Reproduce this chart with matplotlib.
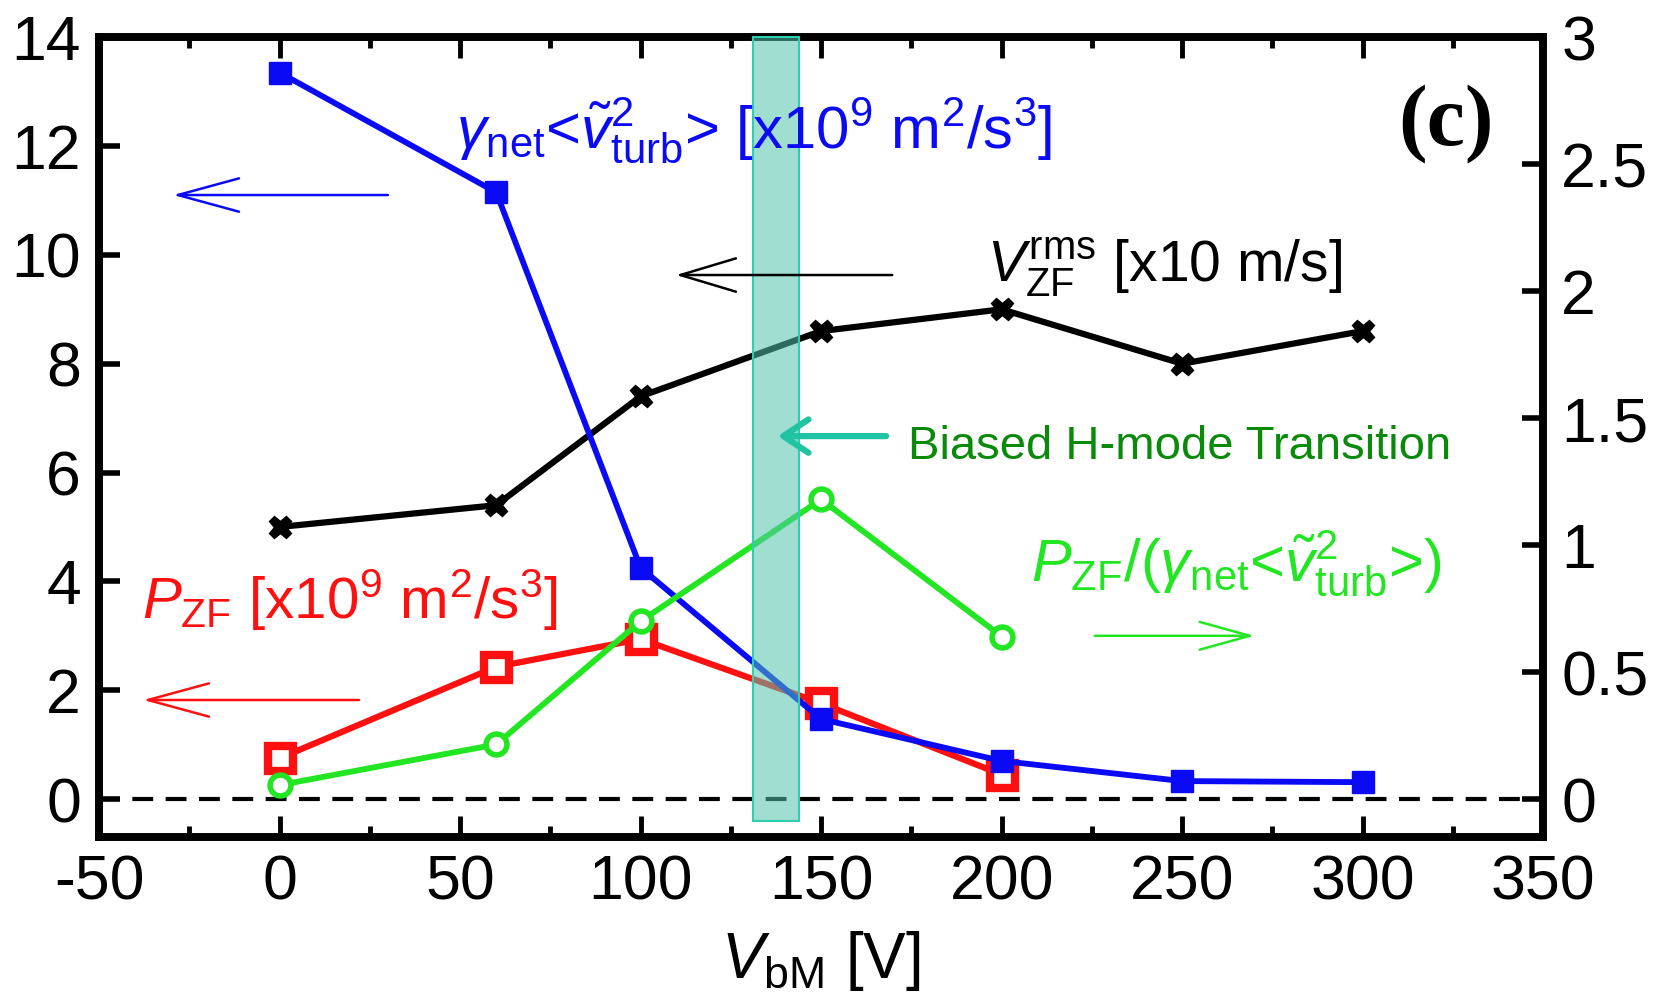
import matplotlib
matplotlib.use("Agg")
import matplotlib.pyplot as plt
from matplotlib.patches import Rectangle
from matplotlib.ticker import MultipleLocator

plt.rcParams['font.family'] = ['Liberation Sans', 'DejaVu Sans']
plt.rcParams['mathtext.fontset'] = 'custom'
plt.rcParams['mathtext.rm'] = 'Liberation Sans'
plt.rcParams['mathtext.it'] = 'Liberation Sans:italic'
plt.rcParams['mathtext.bf'] = 'Liberation Sans:bold'
plt.rcParams['axes.unicode_minus'] = False

# bias voltage scan
v_bias = [0, 60, 100, 150, 200, 250, 300]
gamma_vturb = [13.35, 11.15, 4.25, 1.47, 0.70, 0.33, 0.31]   # x1e9 m^2/s^3
v_zf_rms = [5.0, 5.4, 7.4, 8.6, 9.0, 8.0, 8.6]               # x10 m/s

v_bias_pzf = [0, 60, 100, 150, 200]
p_zf = [0.75, 2.43, 2.94, 1.76, 0.45]                          # x1e9 m^2/s^3
ratio = [0.055, 0.215, 0.70, 1.18, 0.64]                       # right axis

# H-mode transition window
band_lo, band_hi = 131, 144
band_bottom = -0.41

xlim = (-50, 350)
ylim_left = (-0.69, 14)
ylim_right = (ylim_left[0] * 3 / 14, 3)

fig = plt.figure(figsize=(16.71, 10.06), dpi=100)
ax = fig.add_axes([0.0593, 0.1684, 0.8642, 0.7946])
ax2 = ax.twinx()

blue = '#0a0af5'
red = '#ff1010'
green = '#22e622'
teal = '#2ccfae'

ax.axhline(0, color='black', lw=3, ls=(0, (5, 3)), zorder=1)

ax.plot(v_bias, v_zf_rms, color='black', lw=4.5, marker='X', ms=16,
        mec='black', mfc='black', zorder=3)
ax.plot(v_bias_pzf, p_zf, color=red, lw=4.5, marker='s', ms=18,
        mfc='white', mec=red, mew=6, zorder=3)
ax.plot(v_bias, gamma_vturb, color=blue, lw=4.2, marker='s', ms=16,
        mfc=blue, mec=blue, zorder=4)
ax2.plot(v_bias_pzf, ratio, color=green, lw=4.2, marker='o', ms=15,
         mfc='white', mec=green, mew=4, zorder=3)

# translucent band over all curves
ax2.add_patch(Rectangle((band_lo, band_bottom), band_hi - band_lo,
                        ylim_left[1] - band_bottom, transform=ax.transData,
                        facecolor=(82/255, 195/255, 173/255), alpha=0.55,
                        edgecolor='none', zorder=5, clip_on=False))
ax2.add_patch(Rectangle((band_lo, band_bottom), band_hi - band_lo,
                        ylim_left[1] - band_bottom, transform=ax.transData,
                        facecolor='none', edgecolor=teal, lw=1.5, zorder=5,
                        clip_on=False))

ax.set_xlim(*xlim)
ax.set_ylim(*ylim_left)
ax2.set_ylim(*ylim_right)

ax.set_xticks(range(-50, 351, 50))
ax.xaxis.set_minor_locator(MultipleLocator(25))
ax.set_yticks(range(0, 15, 2))
ax2.set_yticks([0, 0.5, 1, 1.5, 2, 2.5, 3])
ax2.set_yticklabels(['0', '0.5', '1', '1.5', '2', '2.5', '3'])

ax.tick_params(axis='x', which='major', direction='in', top=True, bottom=True,
               length=15, width=3.5, labelsize=45, pad=12)
ax.tick_params(axis='x', which='minor', direction='in', top=True, bottom=True,
               length=8, width=3.5)
ax.tick_params(axis='y', direction='in', left=True, right=False,
               length=15, width=4, labelsize=45, pad=13)
ax2.tick_params(axis='y', direction='in', right=True, length=15, width=4,
                labelsize=45, pad=13)

for a in (ax, ax2):
    for s in a.spines.values():
        s.set_linewidth(5.5)

ax.set_xlabel(r'$V_{\mathrm{bM}}$ [V]', fontsize=46, labelpad=12)

# series labels
ax2.text(49, 11.95, r'$\gamma_{\mathrm{net}}$<$\tilde{v}^{2}_{\mathrm{turb}}$> [x10$^{9}$ m$^{2}$/s$^{3}$]',
         transform=ax.transData, color=blue, fontsize=43, ha='left', va='baseline', zorder=6)
ax2.text(196, 9.5, r'$V^{\mathrm{rms}}_{\mathrm{ZF}}$ [x10 m/s]',
         transform=ax.transData, color='black', fontsize=41, ha='left', va='baseline', zorder=6)
ax2.text(-38, 3.3, r'$P_{\mathrm{ZF}}$ [x10$^{9}$ m$^{2}$/s$^{3}$]',
         transform=ax.transData, color=red, fontsize=42, ha='left', va='baseline', zorder=6)
ax2.text(208, 4.0, r'$P_{\mathrm{ZF}}$/($\gamma_{\mathrm{net}}$<$\tilde{v}^{2}_{\mathrm{turb}}$>)',
         transform=ax.transData, color=green, fontsize=43, ha='left', va='baseline', zorder=6)
ax2.text(174, 6.47, 'Biased H-mode Transition', transform=ax.transData,
         color='#0a8a0a', fontsize=34, ha='left', va='center', zorder=6)
ax2.text(323, 12.4, '(c)', transform=ax.transData, fontsize=62,
         fontweight='bold', family='Liberation Serif', ha='center', va='center', zorder=6)

# axis-pointing arrows
def arrow(x0, x1, y, color, lw=1.8, hl=2.2, hw=0.6):
    ax2.annotate('', xy=(x1, y), xytext=(x0, y), xycoords=ax.transData,
                 textcoords=ax.transData, zorder=6,
                 arrowprops=dict(arrowstyle=f'->,head_length={hl},head_width={hw}',
                                 mutation_scale=20, color=color, lw=lw,
                                 shrinkA=0, shrinkB=0))

arrow(30, -29.5, 11.1, blue)
arrow(169.7, 109.8, 9.63, 'black', hl=2.0)
arrow(22, -37.8, 1.82, red)
arrow(225.8, 270, 3.0, green, hl=1.8, hw=0.5)
arrow(168, 138, 6.67, '#1fc4a2', lw=4.5, hl=0.9, hw=0.6)

fig.savefig('out.png', dpi=100)
